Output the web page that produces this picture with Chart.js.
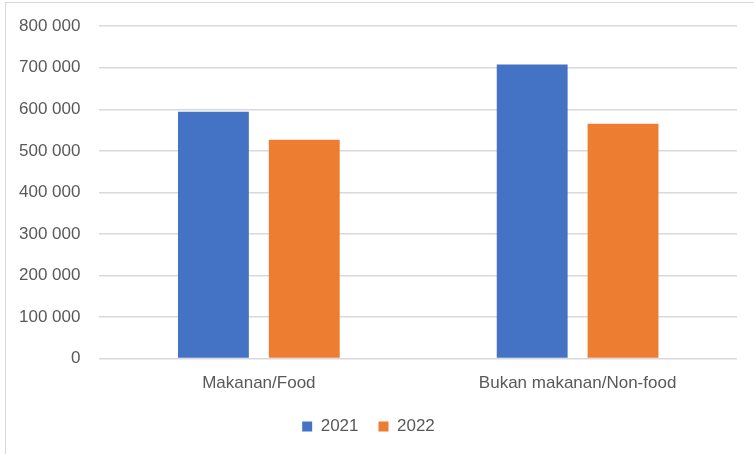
<!DOCTYPE html>
<html>
<head>
<meta charset="utf-8">
<script src="https://cdn.jsdelivr.net/npm/chart.js@4.4.0/dist/chart.umd.min.js"></script>
<style>
  html, body { margin: 0; padding: 0; background: #fff; overflow: hidden; }
  #wrap { position: relative; width: 754px; height: 454px; overflow: hidden; }
  #frame { position: absolute; left: 5px; top: 2px; right: 0; bottom: 0;
           border-top: 1px solid #d9d9d9; border-left: 1px solid #d9d9d9; }
  canvas { position: absolute; left: 0; top: -3px; }
</style>
</head>
<body>
<div id="wrap">
  <div id="frame"></div>
  <canvas id="myChart" width="754" height="457"></canvas>
</div>
<script>
  // data
  const categories = ['Makanan/Food', 'Bukan makanan/Non-food'];
  const years = ['2021', '2022'];
  const values2021 = [594000, 708000];
  const values2022 = [527000, 565000];
  const colors = ['#4472C4', '#ED7D31'];

  const fontFam = "'Liberation Sans', Arial, sans-serif";

  const data = {
    labels: categories,
    datasets: [
      { label: years[0], data: values2021, backgroundColor: colors[0] },
      { label: years[1], data: values2022, backgroundColor: colors[1] }
    ]
  };

  const options = {
    responsive: false,
    animation: false,
    categoryPercentage: 0.57,
    barPercentage: 0.78,
    layout: { padding: { left: 0, right: 17, top: 7, bottom: 9 } },
    plugins: {
      legend: {
        position: 'bottom',
        labels: {
          boxWidth: 10, boxHeight: 10, padding: 20,
          color: '#595959',
          font: { size: 17, family: fontFam }
        }
      },
      tooltip: { enabled: false }
    },
    scales: {
      x: {
        grid: { display: false },
        border: { display: false },
        ticks: { color: '#595959', padding: 7, font: { size: 17, family: fontFam } },
        afterFit: s => { s.height -= 3; }
      },
      y: {
        min: 0, max: 800000,
        grid: { color: '#d9d9d9', lineWidth: 1.5, drawTicks: false },
        border: { display: false },
        ticks: {
          stepSize: 100000, padding: 19, color: '#595959',
          font: { size: 17, family: fontFam },
          callback: v => v === 0 ? '0' : String(v).replace(/\B(?=(\d{3})+(?!\d))/g, ' ')
        }
      }
    }
  };

  const ctx = document.getElementById('myChart');
  new Chart(ctx, { type: 'bar', data: data, options: options });
</script>
</body>
</html>
